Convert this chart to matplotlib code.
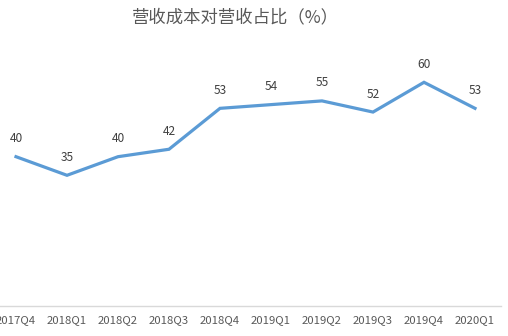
import matplotlib
matplotlib.use("Agg")
import matplotlib.pyplot as plt

plt.rcParams['font.family'] = ['Noto Sans CJK SC', 'DejaVu Sans']

quarters = ["2017Q4", "2018Q1", "2018Q2", "2018Q3", "2018Q4",
            "2019Q1", "2019Q2", "2019Q3", "2019Q4", "2020Q1"]
ratio = [40, 35, 40, 42, 53, 54, 55, 52, 60, 53]

W, H = 508, 336
fig = plt.figure(figsize=(W / 100, H / 100), dpi=100)

# plot area in pixel coordinates
left_px, right_px = -9.5, 500.5
bottom_px, height_px = 30.5, 260.4
ax = fig.add_axes([left_px / W, bottom_px / H,
                   (right_px - left_px) / W, height_px / H])

x = list(range(len(quarters)))
ax.plot(x, ratio, color="#5B9BD5", linewidth=2.3, solid_joinstyle="miter")

for xi, v in zip(x, ratio):
    ax.annotate(f"{v}", (xi, v), xytext=(0, 13), textcoords="offset points",
                ha="center", va="center", fontsize=8.6, color="#404040")

ax.set_xlim(-0.5, len(quarters) - 0.5)
ax.set_ylim(0, 70)
ax.set_xticks(x)
ax.set_xticklabels(quarters, fontsize=8.2, color="#595959")
ax.tick_params(axis="x", length=0, pad=7)
ax.set_yticks([])

for side in ("top", "right", "left"):
    ax.spines[side].set_visible(False)
ax.spines["bottom"].set_color("#D9D9D9")
ax.spines["bottom"].set_linewidth(1.0)

fig.text(235 / W, 1 - 17 / H, "营收成本对营收占比（%）", ha="center", va="center",
         fontsize=12.5, color="#595959")

fig.savefig("out.png", dpi=100, facecolor="white")
